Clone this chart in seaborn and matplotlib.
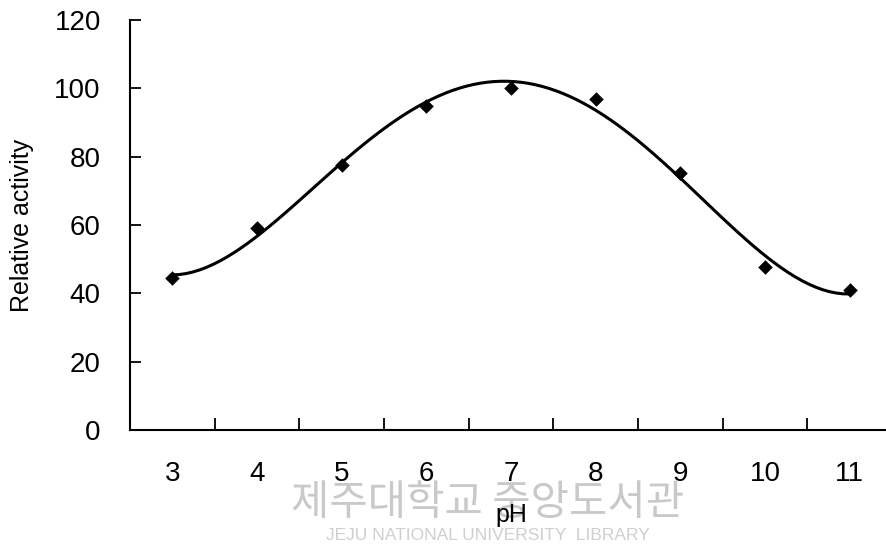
import matplotlib
matplotlib.use("Agg")
import matplotlib.pyplot as plt
import seaborn as sns

# values
ph_labels = ["3", "4", "5", "6", "7", "8", "9", "10", "11"]
activity = [44.5, 59.0, 77.5, 94.8, 100.0, 96.8, 75.3, 47.6, 41.0]
pos = list(range(len(ph_labels)))

sns.set_style("white")
plt.rcParams["font.family"] = ["Liberation Sans", "DejaVu Sans"]
plt.rcParams["text.color"] = "black"
plt.rcParams["xtick.color"] = "black"
plt.rcParams["ytick.color"] = "black"

fig = plt.figure(figsize=(8.87, 5.54), dpi=100)
ax = fig.add_axes([130 / 887, 1 - 430 / 554, 762 / 887, 410 / 554])

# polynomial trend line through the points
sns.regplot(x=pos, y=activity, order=4, ci=None, scatter=False, truncate=True,
            line_kws={"color": "black", "lw": 2.2}, ax=ax)
sns.scatterplot(x=pos, y=activity, marker="D", s=55, color="black",
                edgecolor="black", linewidth=0, ax=ax, zorder=3)

ax.set_xlim(-0.5, 8.5)
ax.set_ylim(0, 120)
ax.set_yticks(range(0, 121, 20))
ax.set_xticks([p + 0.5 for p in pos[:-1]])
ax.set_xticklabels([])
ax.set_xticks(pos, minor=True)
ax.set_xticklabels(ph_labels, minor=True)
ax.tick_params(axis="x", which="major", bottom=True, direction="in", length=9, width=1.3)
ax.tick_params(axis="x", which="minor", bottom=True, length=0, pad=22, labelsize=20)
ax.tick_params(axis="y", left=True, direction="in", length=8, width=1.3, pad=21, labelsize=20)

for s in ["top", "right"]:
    ax.spines[s].set_visible(False)
for s in ["left", "bottom"]:
    ax.spines[s].set_color("black")
    ax.spines[s].set_linewidth(1.5)

ax.set_xlabel("")
ax.set_ylabel("")
fig.text(511 / 887, 1 - 515 / 554, "pH", ha="center", va="center", fontsize=18, zorder=5)
fig.text(22 / 887, 1 - 225 / 554, "Relative activity", ha="center", va="center",
         rotation=90, fontsize=18)

# library watermark
fig.text(488 / 887, 1 - 504 / 554, "제주대학교 중앙도서관", ha="center", va="center",
         fontsize=30, color="#c9c9c9", family=["Noto Sans CJK KR", "DejaVu Sans"], zorder=1)
fig.text(488 / 887, 1 - 536 / 554, "JEJU NATIONAL UNIVERSITY  LIBRARY", ha="center",
         va="center", fontsize=12.5, color="#cfcfcf", zorder=1)

fig.savefig("out.png", dpi=100)
